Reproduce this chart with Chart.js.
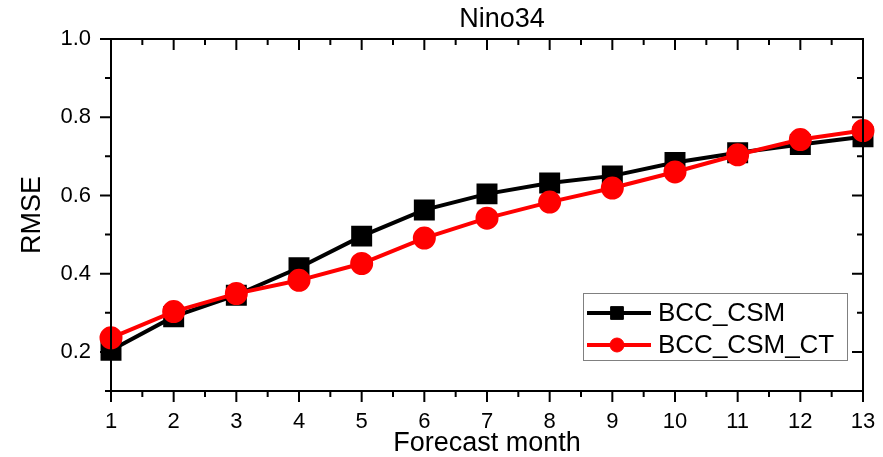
<!DOCTYPE html>
<html>
<head>
<meta charset="utf-8">
<script src="https://cdn.jsdelivr.net/npm/chart.js@4/dist/chart.umd.min.js"></script>
<style>
  body { margin: 0; background: #fff; }
  canvas { display: block; }
</style>
</head>
<body>
<canvas id="rmseChart" width="883" height="457"></canvas>
<script>
var months = [1, 2, 3, 4, 5, 6, 7, 8, 9, 10, 11, 12, 13];
var bccCsm = [0.204, 0.290, 0.345, 0.415, 0.496, 0.563, 0.604, 0.632, 0.650, 0.684, 0.709, 0.730, 0.750];
var bccCsmCt = [0.236, 0.303, 0.349, 0.383, 0.426, 0.491, 0.542, 0.583, 0.619, 0.660, 0.704, 0.743, 0.766];
var seriesNames = ['BCC_CSM', 'BCC_CSM_CT'];
var chartTitle = 'Nino34';

var FONT = 'Arial, "Liberation Sans", sans-serif';
Chart.defaults.color = '#000';
Chart.defaults.font.family = FONT;

function toPoints(vals) {
    return vals.map(function (v, i) { return { x: months[i], y: v }; });
}

// frame with origin-style tick marks: outward on left/bottom, inward on top/right
var frameTicks = {
    id: 'frameTicks',
    afterDraw: function (chart) {
        var a = chart.chartArea, c = chart.ctx;
        var xs = chart.scales.x, ys = chart.scales.y;
        c.save();
        c.strokeStyle = '#000';
        c.lineWidth = 2;
        c.strokeRect(a.left, a.top, a.right - a.left, a.bottom - a.top);
        c.beginPath();
        xs.ticks.forEach(function (t) {
            var px = xs.getPixelForValue(t.value);
            var major = Math.abs(t.value - Math.round(t.value)) < 1e-6;
            var len = major ? 11 : 6;
            c.moveTo(px, a.bottom); c.lineTo(px, a.bottom + len);
            c.moveTo(px, a.top); c.lineTo(px, a.top + len);
        });
        ys.ticks.forEach(function (t) {
            var py = ys.getPixelForValue(t.value);
            var major = Math.round(t.value * 10) % 2 === 0;
            var len = major ? 11 : 6;
            c.moveTo(a.left, py); c.lineTo(a.left - len, py);
            c.moveTo(a.right, py); c.lineTo(a.right - len, py);
        });
        c.stroke();
        // title, placed a bit right of the plot centre like the original
        c.fillStyle = '#000';
        c.font = '27px ' + FONT;
        c.textAlign = 'center';
        c.textBaseline = 'middle';
        c.fillText(chartTitle, 502, 20);
        c.restore();
    }
};

// boxed legend in the lower right of the plot
var boxLegend = {
    id: 'boxLegend',
    afterDraw: function (chart) {
        var c = chart.ctx;
        var bx = 583, by = 293, bw = 264, bh = 67;
        c.save();
        c.strokeStyle = '#808080';
        c.lineWidth = 1;
        c.strokeRect(bx + 0.5, by + 0.5, bw, bh);
        var rows = [chart.data.datasets[1], chart.data.datasets[0]];
        var sizes = [9, 7];
        rows.forEach(function (ds, i) {
            var y = by + 20 + i * 32;
            c.strokeStyle = ds.borderColor;
            c.lineWidth = 4;
            c.beginPath();
            c.moveTo(587, y); c.lineTo(651, y);
            c.stroke();
            c.fillStyle = ds.pointBackgroundColor;
            c.lineWidth = 1;
            Chart.helpers.drawPoint(c, { pointStyle: ds.pointStyle, radius: sizes[i], borderWidth: 1, rotation: 0 }, 617, y);
            c.fillStyle = '#000';
            c.font = '26px ' + FONT;
            c.textBaseline = 'middle';
            c.textAlign = 'left';
            c.fillText(ds.label, 658, y + 1);
        });
        c.restore();
    }
};

var ctx = document.getElementById('rmseChart').getContext('2d');
var rmseChart = new Chart(ctx, {
    type: 'line',
    data: {
        datasets: [{
            label: seriesNames[1],
            data: toPoints(bccCsmCt),
            borderColor: '#ff0000',
            backgroundColor: '#ff0000',
            pointBackgroundColor: '#ff0000',
            pointBorderColor: '#ff0000',
            pointStyle: 'circle',
            pointRadius: 9.5,
            borderWidth: 4,
            order: 0,
            clip: false
        }, {
            label: seriesNames[0],
            data: toPoints(bccCsm),
            borderColor: '#000000',
            backgroundColor: '#000000',
            pointBackgroundColor: '#000000',
            pointBorderColor: '#000000',
            pointStyle: 'rect',
            pointRadius: 12,
            borderWidth: 4,
            order: 1,
            clip: false
        }]
    },
    options: {
        responsive: false,
        animation: false,
        events: [],
        layout: { padding: { left: 0, right: 20, top: 39, bottom: 0 } },
        plugins: {
            legend: { display: false },
            tooltip: { enabled: false },
            title: { display: false }
        },
        scales: {
            x: {
                type: 'linear',
                min: 1,
                max: 13,
                afterFit: function (s) { s.height = 66; s.paddingRight = 0; },
                grid: { display: false },
                border: { display: false },
                ticks: {
                    stepSize: 0.5,
                    autoSkip: false,
                    maxRotation: 0,
                    padding: 10,
                    font: { size: 22 },
                    callback: function (v) { return Number.isInteger(v) ? String(v) : ''; }
                },
                title: {
                    display: true,
                    text: 'Forecast month',
                    font: { size: 27, lineHeight: 1.0 },
                    padding: { top: 0, bottom: 0 }
                }
            },
            y: {
                min: 0.1,
                max: 1.0,
                afterFit: function (s) { s.width = 111; },
                grid: { display: false },
                border: { display: false },
                ticks: {
                    stepSize: 0.1,
                    autoSkip: false,
                    padding: 12,
                    font: { size: 22 },
                    callback: function (v) {
                        return Math.round(v * 10) % 2 === 0 ? v.toFixed(1) : '';
                    }
                },
                title: {
                    display: true,
                    text: 'RMSE',
                    font: { size: 27, lineHeight: 1.2 },
                    padding: { top: 16, bottom: 0 }
                }
            }
        }
    },
    plugins: [frameTicks, boxLegend]
});
</script>
</body>
</html>
